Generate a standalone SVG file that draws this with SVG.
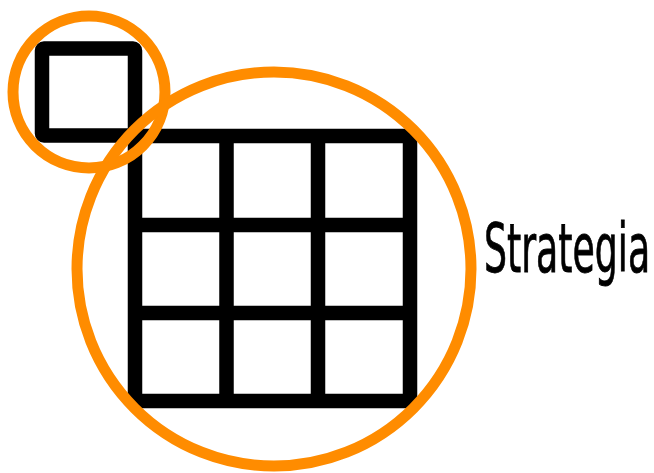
<svg xmlns="http://www.w3.org/2000/svg" width="654" height="473" viewBox="0 0 654 473">
<style>
.blk{fill:none;stroke:#000;stroke-width:14.5;stroke-linejoin:round;stroke-linecap:butt}
.ring{fill:none;stroke:#ff8c00;stroke-width:11}
.lbl{font-family:"DejaVu Sans Condensed","Liberation Sans",sans-serif;font-size:67px;fill:#000;stroke:#000;stroke-width:0.8}
</style>
<rect width="654" height="473" fill="#fff"/>
<g id="small-square">
<rect class="blk" x="42" y="48.5" width="93" height="87" rx="2"/>
</g>
<g id="grid">
<rect class="blk" x="135" y="136" width="275" height="265" rx="2"/>
<path class="blk" d="M226.5 136V401M318 136V401M135 225H410M135 313H410"/>
</g>
<g id="small-circle">
<circle class="ring" cx="89" cy="92" r="76"/>
</g>
<g id="big-circle">
<circle class="ring" cx="274" cy="269" r="197"/>
</g>
<g id="label">
<text class="lbl" transform="translate(484 272) scale(0.62 1)" x="0" y="0" textLength="268" lengthAdjust="spacingAndGlyphs">Strategia</text>
</g>
</svg>
